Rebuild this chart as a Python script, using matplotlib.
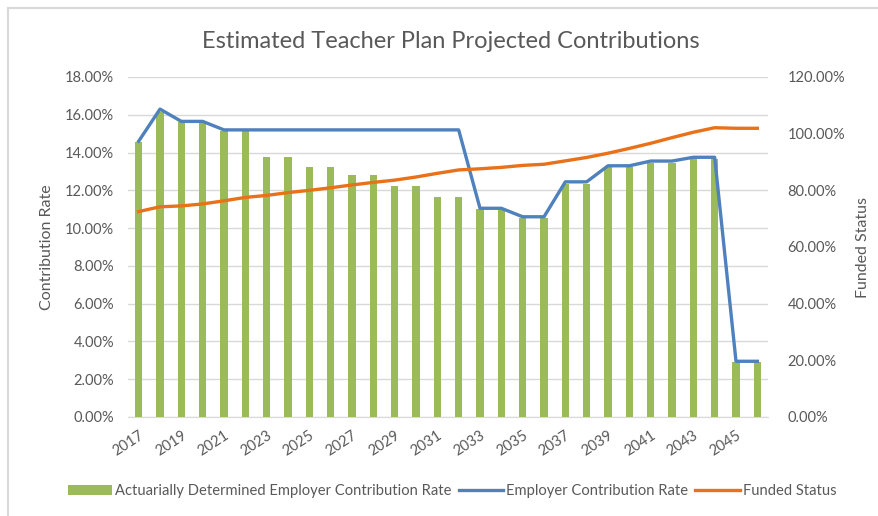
import matplotlib
matplotlib.use("Agg")
import matplotlib.pyplot as plt
from matplotlib.ticker import FuncFormatter, MultipleLocator
from matplotlib.lines import Line2D
import numpy as np

plt.rcParams['font.family'] = ['Lato', 'DejaVu Sans']

years = list(range(2017, 2047))
actuarial_rate = [14.55, 16.15, 15.6, 15.6, 15.15, 15.15, 13.75, 13.75, 13.25, 13.25,
                  12.8, 12.8, 12.25, 12.25, 11.65, 11.65, 11.0, 11.0, 10.55, 10.55,
                  12.35, 12.35, 13.25, 13.25, 13.45, 13.45, 13.65, 13.65, 2.9, 2.9]
employer_rate = [14.6, 16.3, 15.65, 15.65, 15.2, 15.2, 15.2, 15.2, 15.2, 15.2,
                 15.2, 15.2, 15.2, 15.2, 15.2, 15.2, 11.05, 11.05, 10.6, 10.6,
                 12.45, 12.45, 13.3, 13.3, 13.55, 13.55, 13.75, 13.75, 2.95, 2.95]
funded_status = [72.5, 74.2, 74.5, 75.2, 76.3, 77.5, 78.2, 79.2, 80.0, 80.9,
                 81.9, 82.8, 83.6, 84.7, 86.0, 87.2, 87.6, 88.1, 88.8, 89.2,
                 90.4, 91.6, 93.1, 94.8, 96.6, 98.6, 100.5, 102.1, 101.9, 101.9]

green = '#9BBB59'
blue = '#4F81BD'
orange = '#E8711A'
txt = '#595959'

fig = plt.figure(figsize=(8.79, 5.16), dpi=100)
W, H = 879, 516
ax = fig.add_axes([128 / W, (H - 417) / H, 640 / W, 340 / H])
ax2 = ax.twinx()

x = np.arange(len(years))
b = ax.bar(x, actuarial_rate, width=0.34, color=green, zorder=2,
           label='Actuarially Determined Employer Contribution Rate')
l1, = ax.plot(x, employer_rate, color=blue, lw=2.4, zorder=3,
              label='Employer Contribution Rate')
l2, = ax2.plot(x, funded_status, color=orange, lw=2.4, zorder=3,
               label='Funded Status')

ax.set_xlim(-0.5, len(years) - 0.5)
ax.set_ylim(0, 18)
ax2.set_ylim(0, 120)
ax.yaxis.set_major_locator(MultipleLocator(2))
ax2.yaxis.set_major_locator(MultipleLocator(20))
ax.yaxis.set_major_formatter(FuncFormatter(lambda v, p: f'{v:.2f}%'))
ax2.yaxis.set_major_formatter(FuncFormatter(lambda v, p: f'{v:.2f}%'))

ax.grid(axis='y', color='#D9D9D9', lw=1, zorder=0)
ax.set_axisbelow(True)
for a in (ax, ax2):
    for s in a.spines.values():
        s.set_visible(False)
ax.spines['bottom'].set_visible(True)
ax.spines['bottom'].set_color('#D9D9D9')
ax.spines['bottom'].set_zorder(1)

ax.tick_params(axis='y', length=0, labelsize=10.5, labelcolor=txt, pad=10)
ax2.tick_params(axis='y', length=0, labelsize=10.5, labelcolor=txt, pad=14)
ax.set_xticks(x[::2])
ax.set_xticklabels([str(y) for y in years[::2]], rotation=33, ha='right',
                   rotation_mode='anchor', fontsize=10.5, color=txt)
ax.tick_params(axis='x', length=0, pad=8)

ax.set_ylabel('Contribution Rate', fontsize=11.5, color=txt, labelpad=8)
ax2.set_ylabel('Funded Status', fontsize=11.5, color=txt, labelpad=8)

fig.text(451 / W, (H - 42) / H, 'Estimated Teacher Plan Projected Contributions',
         ha='center', va='center', fontsize=17, color=txt)

fig.legend(handles=[b, l1, l2], loc='center', bbox_to_anchor=(452 / W, (H - 491) / H),
           ncol=3, frameon=False, fontsize=10.6, labelcolor=txt,
           handlelength=3.0, handletextpad=0.2, columnspacing=0.5)

# chart area border
fig.add_artist(Line2D([8 / W, 8 / W], [0, (H - 7.5) / H], color='#D9D9D9', lw=1.5,
                      transform=fig.transFigure))
fig.add_artist(Line2D([8 / W, 1], [(H - 7.5) / H, (H - 7.5) / H], color='#D9D9D9', lw=1.5,
                      transform=fig.transFigure))

fig.savefig('out.png', dpi=100)
